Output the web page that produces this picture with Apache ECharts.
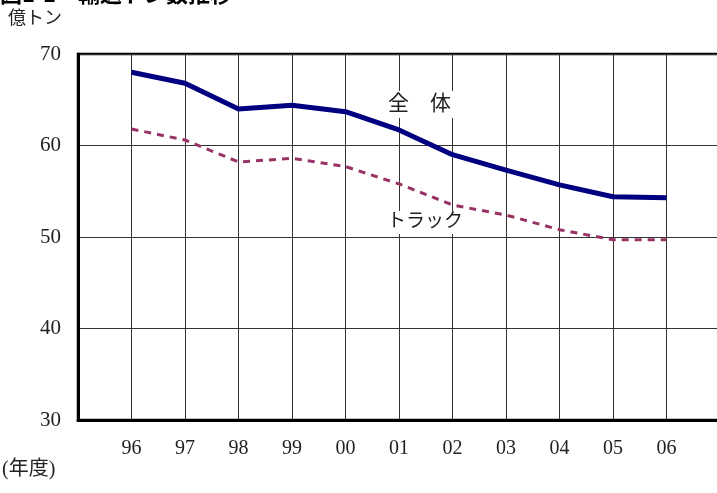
<!DOCTYPE html>
<html>
<head>
<meta charset="utf-8">
<script src="https://cdn.jsdelivr.net/npm/echarts@6/dist/echarts.min.js"></script>
<style>
  html, body { margin: 0; padding: 0; background: #fff; }
  #main { width: 717px; height: 493px; }
</style>
</head>
<body>
<div id="main"></div>
<script>
// years, with a blank slot on each side
let years = ['', '96', '97', '98', '99', '00', '01', '02', '03', '04', '05', '06', ' '];
let total = [null, 68.0, 66.8, 64.0, 64.4, 63.7, 61.7, 59.0, 57.3, 55.7, 54.4, 54.3, null];
let truck = [null, 61.8, 60.6, 58.2, 58.6, 57.7, 55.8, 53.5, 52.4, 50.8, 49.7, 49.7, null];

let font = '"Liberation Serif", "Noto Sans CJK JP", serif';

let myChart = echarts.init(document.getElementById('main'));
let option;

option = {
  animation: false,
  backgroundColor: '#fff',
  grid: {
    left: 78,
    top: 54,
    width: 642,
    bottom: 73,
    outerBoundsMode: 'none',
    containLabel: false,
    show: true,
    borderColor: '#000',
    borderWidth: 2.5
  },
  graphic: [
    { type: 'text', left: 0, top: -17, style: { text: '図1-1　輸送トン数推移', font: 'bold 22px "Noto Sans CJK JP"', fill: '#000' } },
    { type: 'text', left: 8, top: 10, style: { text: '億トン', font: '18px ' + font, fill: '#222' } },
    { type: 'text', left: 2, top: 460, style: { text: '(年度)', font: '20px ' + font, fill: '#222' } },
    { type: 'text', left: 385, top: 91, z: 10, style: { text: '全　体', font: '21px ' + font, fill: '#222', backgroundColor: '#fff', padding: [3, 3] } },
    { type: 'text', left: 383, top: 211, z: 10, style: { text: 'トラック', font: '19px ' + font, fill: '#222', backgroundColor: '#fff', padding: [2, 4] } }
  ],
  xAxis: {
    type: 'category',
    data: years,
    boundaryGap: false,
    axisLine: { lineStyle: { color: '#000', width: 3 } },
    axisTick: { show: false },
    axisLabel: { color: '#222', fontSize: 20, fontFamily: font, margin: 19, interval: 0 },
    splitLine: { show: true, interval: 0, lineStyle: { color: '#333', width: 1 } }
  },
  yAxis: {
    type: 'value',
    min: 30,
    max: 70,
    interval: 10,
    axisLine: { show: true, lineStyle: { color: '#000', width: 3 } },
    axisTick: { show: false },
    axisLabel: { color: '#222', fontSize: 21, fontFamily: font, margin: 17 },
    splitLine: { show: true, lineStyle: { color: '#333', width: 1 } }
  },
  series: [
    {
      name: '全体',
      type: 'line',
      data: total,
      symbol: 'none',
      lineStyle: { color: '#000080', width: 5 },
      z: 3
    },
    {
      name: 'トラック',
      type: 'line',
      data: truck,
      symbol: 'none',
      lineStyle: { color: '#993366', width: 3, type: [7, 6] },
      z: 2
    }
  ]
};

option && myChart.setOption(option);
</script>
</body>
</html>
